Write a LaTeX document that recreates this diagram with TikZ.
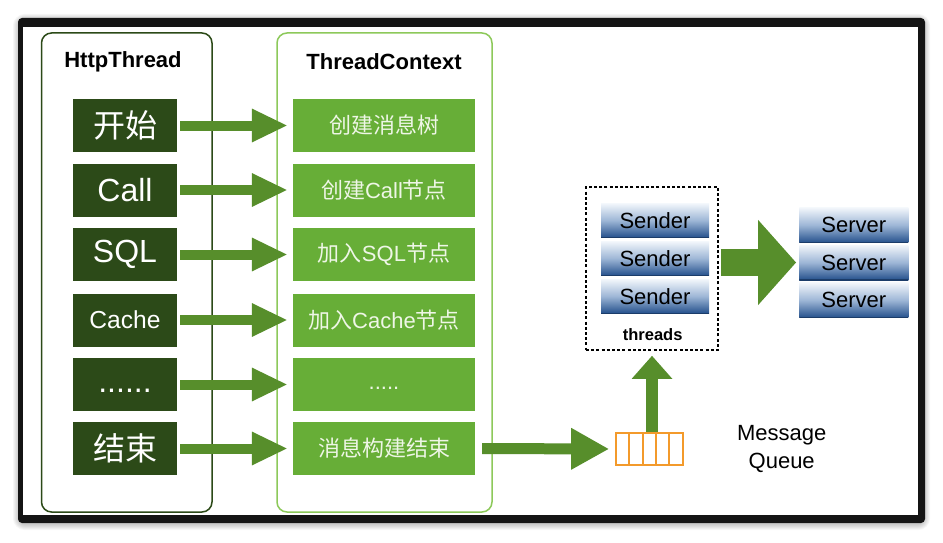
\documentclass[tikz,border=0pt]{standalone}
\usepackage{fontspec}
\setmainfont{Liberation Sans}
\newfontfamily\cjk{Noto Sans CJK SC}
\usetikzlibrary{arrows.meta}
\definecolor{dkg}{HTML}{2C4A18}
\definecolor{ltg}{HTML}{67AE37}
\definecolor{ltborder}{HTML}{8DC95A}
\definecolor{arrg}{HTML}{578E2B}
\definecolor{qorange}{HTML}{F39A2B}
\definecolor{ltxt}{HTML}{EEF6E6}
\definecolor{btop}{HTML}{F2F6FB}
\definecolor{bmid}{HTML}{9DB6D6}
\definecolor{bbot}{HTML}{24508C}
\tikzset{
  dbox/.style={fill=dkg, text=white, minimum width=104pt, minimum height=53pt, inner sep=0pt, font=\fontsize{32}{36}\selectfont},
  lbox/.style={fill=ltg, text=ltxt, minimum width=182pt, minimum height=53pt, inner sep=0pt, font=\fontsize{22}{26}\selectfont},
  garr/.style={draw=arrg, line width=10pt, -{Triangle[length=36pt,width=31pt]}},
  bluebox/.style={top color=btop, bottom color=bbot, middle color=bmid, inner sep=0pt, font=\fontsize{22}{26}\selectfont,
    path picture={\draw[bbot!75!black, line width=1.4pt] (path picture bounding box.south west) -- (path picture bounding box.south east);}},
  title/.style={font=\fontsize{22}{26}\selectfont\bfseries}
}
\begin{document}
\begin{tikzpicture}[x=1pt,y=-1pt]
\useasboundingbox (0,0) rectangle (943,543);
\fill[white] (0,0) rectangle (943,543);
% shadow
\foreach \w in {2,4,6,8,10,12}
  \draw[black, opacity=0.035, line width=\w pt, rounded corners=6pt] (19,20) rectangle (924,524);
% frame
\fill[black!92, rounded corners=4pt] (18,18) rectangle (925,523);
\fill[white] (23,27) rectangle (918,515);

% panels
\node[draw=dkg, line width=1.5pt, rounded corners=10pt, minimum width=170.5pt, minimum height=479pt, inner sep=0pt] (hbox) at (126.75,272.5) {};
\node[draw=ltborder, line width=1.5pt, rounded corners=10pt, minimum width=215pt, minimum height=479pt, inner sep=0pt] (cbox) at (384.5,272.5) {};
\node[title] (ht) at (123,62) {HttpThread};
\node[title] (ct) at (384,62) {ThreadContext};

% left boxes
\node[dbox] (l1) at (125,125.5) {\cjk 开始};
\node[dbox] (l2) at (125,190) {Call};
\node[dbox] (l3) at (125,254.5) {SQL};
\node[dbox, font=\fontsize{24.6}{28}\selectfont] (l4) at (125,320) {Cache};
\node[dbox] (l5) at (125,384.5) {\vphantom{Cg}......};
\node[dbox] (l6) at (125,448.5) {\cjk 结束};

% right boxes
\node[lbox] (r1) at (384,125.5) {\cjk 创建消息树};
\node[lbox] (r2) at (384,190) {{\cjk 创建}Call{\cjk 节点}};
\node[lbox] (r3) at (384,254.5) {{\cjk 加入}SQL{\cjk 节点}};
\node[lbox] (r4) at (384,320) {{\cjk 加入}Cache{\cjk 节点}};
\node[lbox] (r5) at (384,384.5) {\vphantom{Cg}.....};
\node[lbox] (r6) at (384,448.5) {\cjk 消息构建结束};

\foreach \i in {1,...,6}
  \draw[garr, shorten <=3pt, shorten >=5pt] (l\i.east) -- (r\i.west);

% threads box
\node[draw=black, line width=1.5pt, dash pattern=on 3pt off 2.2pt, minimum width=132pt, minimum height=163pt, inner sep=0pt] (thr) at (652,268.5) {};
\node[bluebox, minimum width=108pt, minimum height=34pt] (s1) at (655,220.5) {Sender};
\node[bluebox, minimum width=108pt, minimum height=34pt] (s2) at (655,258.5) {Sender};
\node[bluebox, minimum width=108pt, minimum height=34pt] (s3) at (655,296.3) {Sender};
\node[font=\fontsize{16.5}{20}\selectfont\bfseries] (thl) at (652.7,335) {threads};

% servers
\node[bluebox, minimum width=109pt, minimum height=35pt] (v1) at (853.8,225.2) {Server};
\node[bluebox, minimum width=109pt, minimum height=35pt] (v2) at (853.8,262.5) {Server};
\node[bluebox, minimum width=109pt, minimum height=35pt] (v3) at (853.8,300.2) {Server};

% queue
\node[draw=qorange, line width=2pt, minimum width=66.7pt, minimum height=32.3pt, inner sep=0pt] (q) at (649.5,449) {};
\foreach \xx in {629.3,642.6,655.9,669.2}
  \draw[qorange, line width=2pt] (\xx,432.9) -- (\xx,465.1);
\node[align=center, font=\fontsize{22}{27.7}\selectfont] (mq) at (781.7,449) {Message\\Queue};

% arrows
\draw[draw=arrg, line width=11pt, -{Triangle[length=38pt,width=39pt]}, shorten <=7pt, shorten >=6pt] (r6.east) -- (q.west);
\draw[draw=arrg, line width=12pt, -{Triangle[length=23pt,width=39pt]}, shorten >=5pt] (q.north -| thr.south) -- (thr.south);
\draw[draw=arrg, line width=27pt, -{Triangle[length=38pt,width=83pt]}, shorten <=2pt, shorten >=3pt] (thr.east |- v2.west) -- (v2.west);
\end{tikzpicture}
\end{document}
